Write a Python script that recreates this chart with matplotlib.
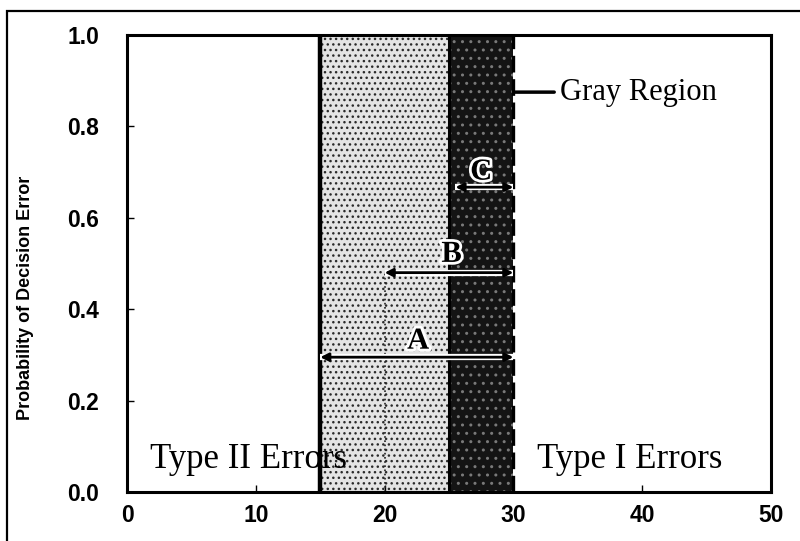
import matplotlib
matplotlib.use("Agg")
import matplotlib.pyplot as plt
import matplotlib.patheffects as pe
from matplotlib.patches import Rectangle

# ---- data ----
x_limits = [0, 50]
y_limits = [0.0, 1.0]
x_ticks = [0, 10, 20, 30, 40, 50]
y_ticks = [0.0, 0.2, 0.4, 0.6, 0.8, 1.0]
action_level = 15          # solid line
gray_light = [15, 25]      # lightly stippled region
gray_dark = [25, 30]       # dark region
threshold = 30             # dashed line
arrow_labels = ["A", "B", "C"]
arrow_starts = [15, 20, 25.5]
arrow_ends = [30, 30, 30]
arrow_y = [0.295, 0.48, 0.667]
label_x = [22.6, 25.2, 27.5]
label_y = [0.33, 0.52, 0.70]
dotted_x = 20
dotted_top = 0.48
gray_label = "Gray Region"
gray_label_y = 0.875
type2_label = "Type II Errors"
type1_label = "Type I Errors"

fig = plt.figure(figsize=(8, 5.41), dpi=100)
ax = fig.add_axes([127/800, 1-492/541, (771-127)/800, (492-35)/541])
ax.set_xlim(*x_limits)
ax.set_ylim(*y_limits)

serif = ["Liberation Serif", "DejaVu Serif"]
sans = ["Liberation Sans", "DejaVu Sans"]

# regions
ax.axvspan(gray_light[0], gray_light[1], facecolor="#e4e4e4", edgecolor="#2a2a2a",
           hatch="...", linewidth=0, zorder=1)
ax.axvspan(gray_dark[0], gray_dark[1], facecolor="#141414", edgecolor="#7a7a7a",
           hatch="..", linewidth=0, zorder=1)
ax.axvline(gray_dark[0], color="black", lw=2.2, zorder=2)
ax.axvline(action_level, color="black", lw=3.2, zorder=3)
ax.axvline(threshold, color="black", lw=2.4, linestyle=(0, (5, 2)), zorder=3)
ax.plot([dotted_x, dotted_x], [0, dotted_top], color="#222222", lw=1.2,
        linestyle=(0, (1, 1.5)), zorder=2)

# arrows (white halo, then black arrow)
for lab, x0, x1, yy, lx, ly in zip(arrow_labels, arrow_starts, arrow_ends, arrow_y,
                                   label_x, label_y):
    ax.plot([x0, x1], [yy, yy], color="white", lw=4.5, solid_capstyle="butt", zorder=4)
    ax.annotate("", xy=(x0, yy), xytext=(x1, yy),
                arrowprops=dict(arrowstyle="<|-|>", color="black", lw=2.0,
                                mutation_scale=12, shrinkA=0, shrinkB=0),
                zorder=5)
    ax.text(lx, ly, lab, family=serif, fontsize=22, fontweight="bold",
            ha="center", va="center", color="black", zorder=6,
            path_effects=[pe.withStroke(linewidth=4, foreground="white")])

# gray region label with connector
ax.annotate(gray_label, xy=(threshold + 0.1, gray_label_y), xytext=(33.6, gray_label_y),
            family=serif, fontsize=22, ha="left", va="center",
            arrowprops=dict(arrowstyle="-", color="black", lw=2.5, shrinkA=2, shrinkB=0))

# error type labels
ax.text(1.8, 0.053, type2_label, family=serif, fontsize=25, ha="left", va="baseline", zorder=6)
ax.text(31.8, 0.053, type1_label, family=serif, fontsize=25, ha="left", va="baseline", zorder=6)

# axes styling
ax.set_xticks(x_ticks)
ax.set_yticks(y_ticks)
ax.set_xticklabels([str(t) for t in x_ticks])
ax.set_yticklabels([f"{t:.1f}" for t in y_ticks])
for s in ax.spines.values():
    s.set_linewidth(2.2)
ax.tick_params(direction="in", length=5, width=1, top=False, right=False)
ax.tick_params(axis="y", pad=20)
ax.tick_params(axis="x", pad=9)
for t in ax.get_xticklabels() + ax.get_yticklabels():
    t.set_family(sans)
    t.set_fontsize(16.5)
    t.set_fontweight("bold")

fig.text(26/800, 1-298/541, "Probability of Decision Error", family=sans, fontsize=13,
         fontweight="bold", rotation=90, ha="center", va="center")

# outer frame (left and top visible)
fig.patches.append(Rectangle((7/800, -0.1), 1.2, 1-11/541 + 0.1, transform=fig.transFigure,
                             fill=False, edgecolor="black", linewidth=1.6))

fig.savefig("out.png", dpi=100)
